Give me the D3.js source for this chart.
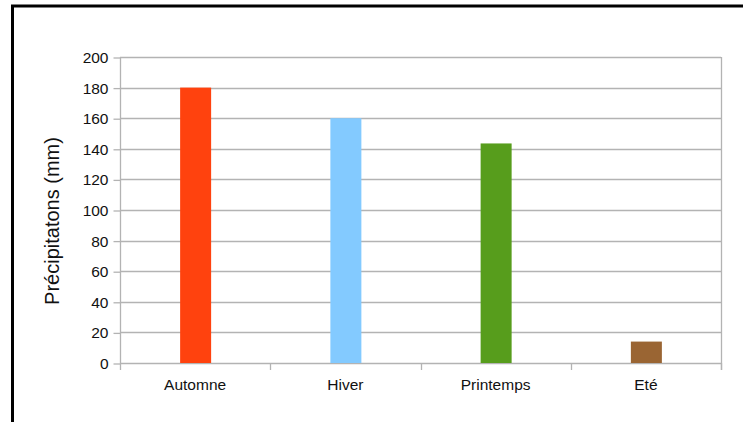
<!DOCTYPE html>
<html>
<head>
<meta charset="utf-8">
<script src="https://cdn.jsdelivr.net/npm/d3@7"></script>
<style>
  html, body { margin: 0; padding: 0; background: #fff; }
  svg { display: block; font-family: "Liberation Sans", Arial, sans-serif; }
</style>
</head>
<body>
<svg id="chart" width="743" height="422"></svg>
<script>
// chart data
const seasons = ['Automne', 'Hiver', 'Printemps', 'Eté'];
const rainfall = [180, 160, 143.5, 14];
const barColors = ['#ff420e', '#83caff', '#579d1c', '#9a6533'];
const yTicks = [0, 20, 40, 60, 80, 100, 120, 140, 160, 180, 200];

const width = 743;
const height = 422;
const plot = { left: 120, right: 721, top: 57, bottom: 363 };
const gridColor = '#b3b3b3';

const svg = d3.select('#chart');

// black frame, cut off by the window on the right and bottom
svg.append('rect')
  .attr('x', 12.5)
  .attr('y', 6)
  .attr('width', 900)
  .attr('height', 600)
  .attr('fill', 'none')
  .attr('stroke', '#000')
  .attr('stroke-width', 3);

const x = d3.scaleBand()
  .domain(seasons)
  .range([plot.left, plot.right])
  .paddingInner(0)
  .paddingOuter(0);

const y = d3.scaleLinear()
  .domain([0, 200])
  .range([plot.bottom, plot.top]);

// horizontal grid
svg.append('g')
  .selectAll('line')
  .data(yTicks)
  .join('line')
  .attr('x1', plot.left)
  .attr('x2', plot.right)
  .attr('y1', (d) => Math.round(y(d)) + 0.5)
  .attr('y2', (d) => Math.round(y(d)) + 0.5)
  .attr('stroke', gridColor)
  .attr('stroke-width', 1.3);

// right border of the plot
svg.append('line')
  .attr('x1', plot.right + 0.5)
  .attr('x2', plot.right + 0.5)
  .attr('y1', plot.top)
  .attr('y2', plot.bottom + 7)
  .attr('stroke', gridColor)
  .attr('stroke-width', 1.3);

// bars
const barWidth = 31;
svg.append('g')
  .selectAll('rect')
  .data(seasons)
  .join('rect')
  .attr('x', (d) => x(d) + x.bandwidth() / 2 - barWidth / 2 + 0.5)
  .attr('y', (d, i) => y(rainfall[i]))
  .attr('width', barWidth)
  .attr('height', (d, i) => y(0) - y(rainfall[i]))
  .attr('fill', (d, i) => barColors[i]);

// y axis
const yAxis = svg.append('g')
  .attr('transform', `translate(${plot.left + 0.5},0)`)
  .call(d3.axisLeft(y).tickValues(yTicks).tickSize(7).tickPadding(5));
yAxis.select('.domain')
  .attr('d', `M0,${plot.top}V${plot.bottom + 7}`)
  .attr('stroke', gridColor)
  .attr('stroke-width', 1.3);
yAxis.selectAll('.tick line')
  .attr('stroke', gridColor)
  .attr('stroke-width', 1.3)
  .attr('transform', 'translate(0,0.5)');
yAxis.selectAll('.tick text')
  .attr('fill', '#111')
  .attr('font-size', 15.5)
  .attr('font-family', '"Liberation Sans", Arial, sans-serif')
  .attr('dy', '0.35em');

// x axis: ticks at category boundaries
const boundaries = seasons.map((d) => x(d) + x.bandwidth());
svg.append('g')
  .selectAll('line')
  .data(boundaries)
  .join('line')
  .attr('x1', (d) => Math.round(d) + 0.5)
  .attr('x2', (d) => Math.round(d) + 0.5)
  .attr('y1', plot.bottom)
  .attr('y2', plot.bottom + 7)
  .attr('stroke', gridColor)
  .attr('stroke-width', 1.3);

svg.append('g')
  .selectAll('text')
  .data(seasons)
  .join('text')
  .attr('x', (d) => x(d) + x.bandwidth() / 2)
  .attr('y', 390)
  .attr('text-anchor', 'middle')
  .attr('font-size', 15.5)
  .attr('fill', '#111')
  .text((d) => d);

// y axis title
svg.append('text')
  .attr('transform', 'translate(59,221) rotate(-90)')
  .attr('text-anchor', 'middle')
  .attr('font-size', 20)
  .attr('fill', '#111')
  .text('Précipitatons (mm)');
</script>
</body>
</html>
